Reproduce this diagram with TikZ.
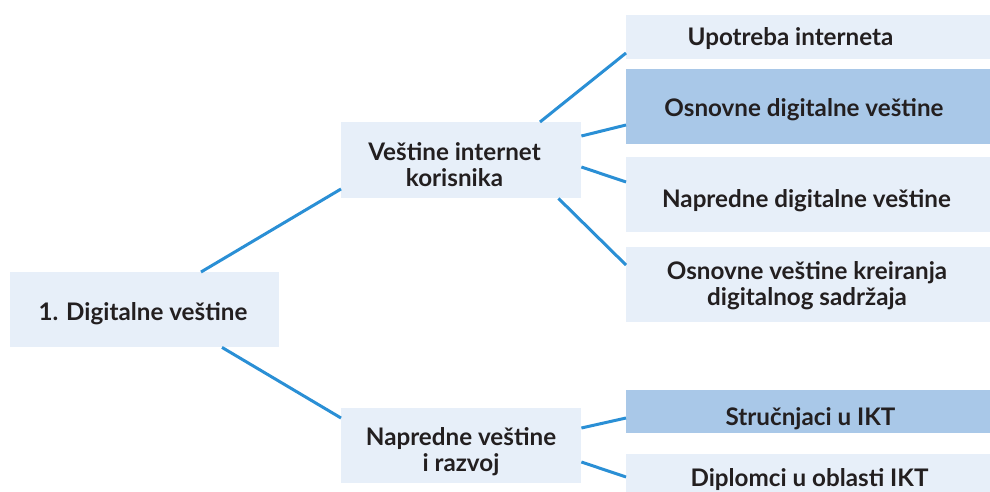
\documentclass[tikz,border=0pt]{standalone}
\usepackage{fontspec}
\setmainfont{Lato}
\definecolor{lightbox}{HTML}{E7EFF9}
\definecolor{darkbox}{HTML}{A9C8E8}
\definecolor{linkblue}{HTML}{2A8FD5}
\definecolor{ink}{HTML}{231F20}
\begin{document}
\begin{tikzpicture}[x=1pt,y=-1pt,
  boxl/.style={fill=lightbox, draw=none, inner sep=0pt, anchor=north west},
  boxd/.style={fill=darkbox, draw=none, inner sep=0pt, anchor=north west},
  txt/.style={inner sep=0pt, anchor=base, align=center, text=ink,
    font=\fontsize{24.2}{26}\selectfont\bfseries},
  link/.style={draw=linkblue, line width=3pt}]
\useasboundingbox (0,0) rectangle (990,492);
% boxes
\node[boxl, minimum width=269pt, minimum height=75pt] (root) at (10,272) {};
\node[boxl, minimum width=240pt, minimum height=76pt] (mid1) at (341,122) {};
\node[boxl, minimum width=240pt, minimum height=75pt] (mid2) at (341,408) {};
\node[boxl, minimum width=364pt, minimum height=44pt] (up) at (626,15) {};
\node[boxd, minimum width=364pt, minimum height=75pt] (osn) at (626,69) {};
\node[boxl, minimum width=364pt, minimum height=75pt] (nap) at (626,157) {};
\node[boxl, minimum width=364pt, minimum height=75pt] (kre) at (626,247) {};
\node[boxd, minimum width=364pt, minimum height=43pt] (str) at (626,390) {};
\node[boxl, minimum width=364pt, minimum height=38pt] (dip) at (626,454) {};
% texts
\node[txt] (rootT) at (143,320) {1. Digitalne veštine};
\node[txt] (mid1T) at (454.5,186) {Veštine internet\\korisnika};
\node[txt] (mid2T) at (461,471.5) {Napredne veštine\\i razvoj};
\node[txt] (upT) at (790.5,46) {Upotreba interneta};
\node[txt] (osnT) at (804,117) {Osnovne digitalne veštine};
\node[txt] (napT) at (806.5,207) {Napredne digitalne veštine};
\node[txt] (kreT) at (807,305) {Osnovne veštine kreiranja\\digitalnog sadržaja};
\node[txt] (strT) at (810.5,425) {Stručnjaci u IKT};
\node[txt] (dipT) at (809.5,486) {Diplomci u oblasti IKT};
% connectors
\draw[link] ([shift={(191,0)}]root.north west) -- ([shift={(0,67)}]mid1.north west);
\draw[link] ([shift={(212,0)}]root.south west) -- ([shift={(0,10)}]mid2.north west);
\draw[link] ([shift={(199,0)}]mid1.north west) -- ([shift={(0,38)}]up.north west);
\draw[link] ([shift={(0,14)}]mid1.north east) -- ([shift={(0,56)}]osn.north west);
\draw[link] ([shift={(0,45)}]mid1.north east) -- ([shift={(0,25)}]nap.north west);
\draw[link] ([shift={(-23,0)}]mid1.south east) -- ([shift={(0,18)}]kre.north west);
\draw[link] ([shift={(0,20)}]mid2.north east) -- ([shift={(0,28)}]str.north west);
\draw[link] ([shift={(0,54)}]mid2.north east) -- ([shift={(0,23)}]dip.north west);
\end{tikzpicture}
\end{document}
